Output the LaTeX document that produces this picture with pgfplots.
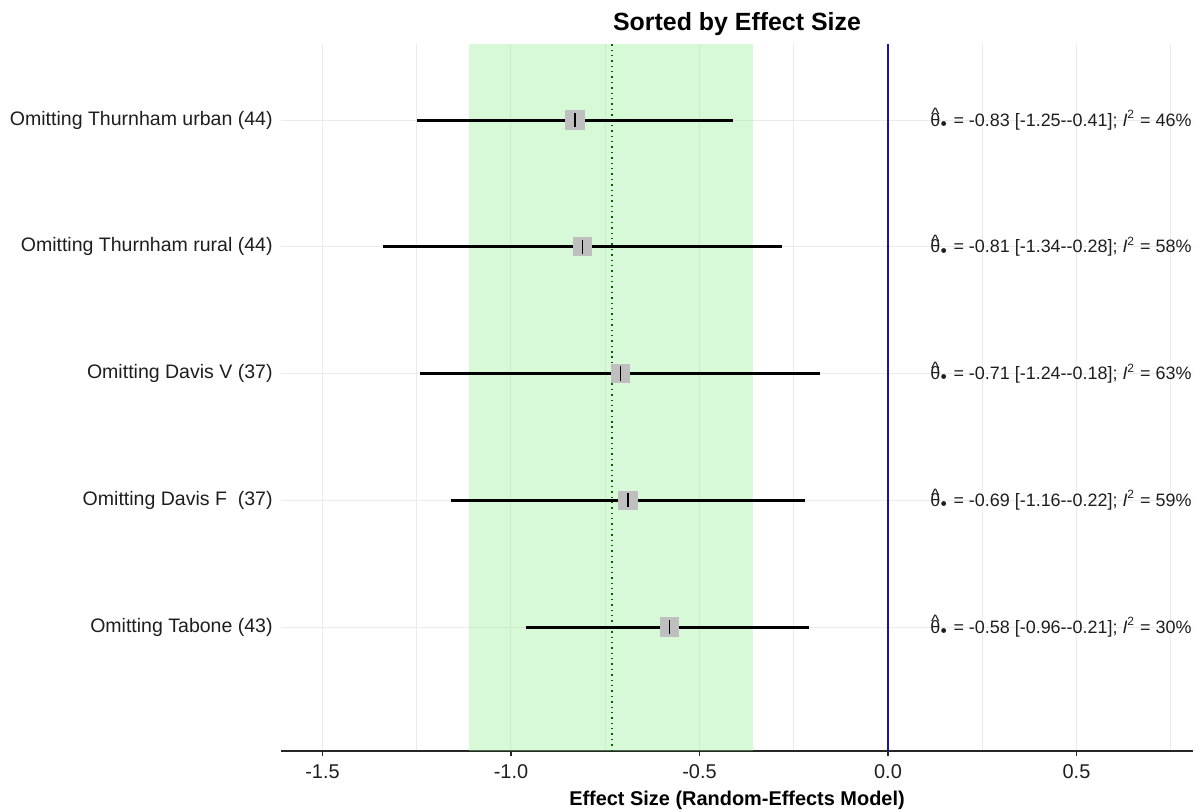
\documentclass[border=0pt]{standalone}
\usepackage{pgfplots}
\pgfplotsset{compat=1.18}
\usepackage{pgfplotstable}
\usepackage{fontspec}
\setmainfont{Liberation Sans}
\definecolor{lgreen}{RGB}{144,238,144}
\definecolor{gridc}{RGB}{235,235,235}
\definecolor{txt}{RGB}{30,30,30}
\definecolor{zline}{RGB}{20,20,170}
\definecolor{dgreen}{RGB}{0,100,0}
\newcommand{\thst}{{\ooalign{θ\cr\hidewidth\raisebox{0.55ex}{\^{}}\hidewidth\cr}}\textsubscript{\raisebox{0.3ex}{\tiny$\bullet$}}}
\pgfplotstableread{
row est ep em
5 -0.83 0.42 0.42
4 -0.81 0.53 0.53
3 -0.71 0.53 0.53
2 -0.69 0.47 0.47
1 -0.58 0.37 0.38
}\data
\begin{document}
\begin{tikzpicture}
\begin{axis}[
  name=ax,
  scale only axis,
  width=456bp, height=353.5bp,
  xmin=-1.61, xmax=0.809,
  ymin=0.022, ymax=5.6,
  axis x line*=bottom, axis y line*=left,
  x axis line style={line width=0.9bp, black!85},
  y axis line style={draw=none},
  xtick={-1.5,-1,-0.5,0,0.5},
  minor xtick={-1.25,-0.75,-0.25,0.25,0.75},
  ytick={1,2,3,4,5},
  yticklabels={Omitting Tabone (43), Omitting Davis F\ \ (37), Omitting Davis V (37), Omitting Thurnham rural (44), Omitting Thurnham urban (44)},
  grid=both,
  major grid style={gridc, line width=0.5bp},
  minor grid style={gridc, line width=0.5bp},
  tick align=outside,
  major tick length=2.5bp,
  minor tick length=0pt,
  xtick style={black!85, line width=0.75bp},
  ytick style={draw=none},
  /pgf/number format/assume math mode=true,
  xticklabel style={/pgf/number format/.cd, fixed, fixed zerofill, precision=1, /tikz/.cd, font=\fontsize{10}{12}\selectfont, text=txt, anchor=base, yshift=-11bp},
  yticklabel style={font=\fontsize{9.8}{11}\selectfont, text=txt, anchor=east, inner sep=0pt, xshift=-1.5bp},
  title={Sorted by Effect Size},
  title style={font=\bfseries\fontsize{12.5}{14}\selectfont, at={(0.5,1)}, anchor=base, yshift=1bp},
  xlabel={Effect Size (Random-Effects Model)},
  xlabel style={font=\bfseries\fontsize{10}{12}\selectfont, at={(0.5,0)}, anchor=base, yshift=-27bp},
  clip=false,
]
\addplot[draw=none, fill=lgreen, fill opacity=0.35] coordinates {(-1.111,0.022) (-0.358,0.022) (-0.358,5.6) (-1.111,5.6)} -- cycle;
\addplot[dgreen, dotted, line width=0.7bp] coordinates {(-0.732,0.022) (-0.732,5.6)};
\addplot[zline, line width=0.7bp] coordinates {(0,0.022) (0,5.6)};
\addplot[only marks, color=gray!50, mark=square*, mark size=4.6bp, mark options={draw=gray!50, fill=gray!50, line width=0pt}] table[x=est, y=row] {\data};
\addplot[draw=none, mark=none, error bars/.cd, x dir=both, x explicit, error mark=none, error bar style={line width=1.5bp, black}] table[x=est, y=row, x error plus=ep, x error minus=em] {\data};
\addplot[only marks, black, mark=|, mark size=3.6bp, mark options={line width=0.7bp, black}] table[x=est, y=row] {\data};
\node[anchor=east, inner sep=0pt, font=\fontsize{9}{10}\selectfont, text=txt] at (axis cs:0.806,5) {\thst{} = -0.83 [-1.25-{}-0.41]; \textit{I}\textsuperscript{2} = 46\%};
\node[anchor=east, inner sep=0pt, font=\fontsize{9}{10}\selectfont, text=txt] at (axis cs:0.806,4) {\thst{} = -0.81 [-1.34-{}-0.28]; \textit{I}\textsuperscript{2} = 58\%};
\node[anchor=east, inner sep=0pt, font=\fontsize{9}{10}\selectfont, text=txt] at (axis cs:0.806,3) {\thst{} = -0.71 [-1.24-{}-0.18]; \textit{I}\textsuperscript{2} = 63\%};
\node[anchor=east, inner sep=0pt, font=\fontsize{9}{10}\selectfont, text=txt] at (axis cs:0.806,2) {\thst{} = -0.69 [-1.16-{}-0.22]; \textit{I}\textsuperscript{2} = 59\%};
\node[anchor=east, inner sep=0pt, font=\fontsize{9}{10}\selectfont, text=txt] at (axis cs:0.806,1) {\thst{} = -0.58 [-0.96-{}-0.21]; \textit{I}\textsuperscript{2} = 30\%};
\end{axis}
\pgfresetboundingbox
\path ([shift={(-140.5bp,-30.5bp)}]ax.south west) rectangle ([shift={(5bp,22bp)}]ax.north east);
\end{tikzpicture}
\end{document}
